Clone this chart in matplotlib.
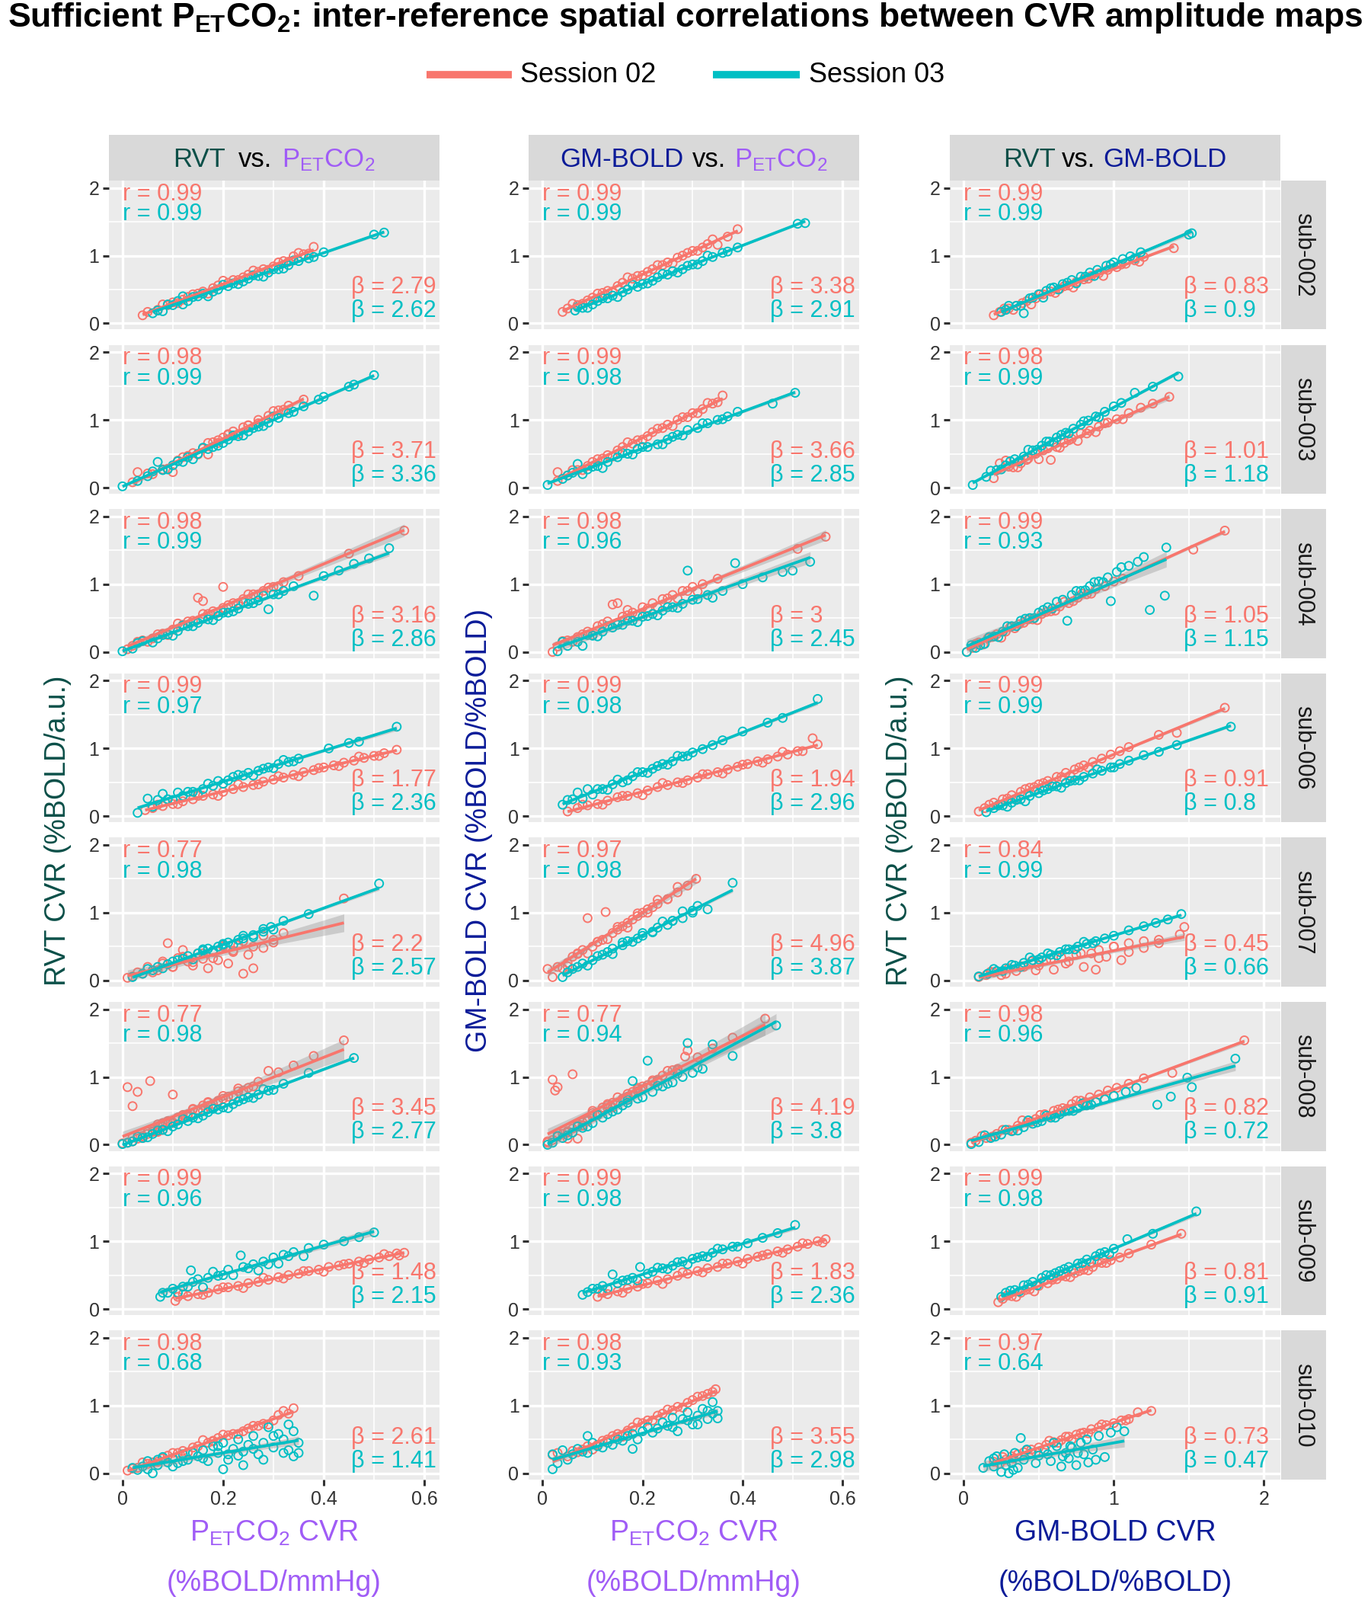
import numpy as np
import matplotlib
matplotlib.use("Agg")
import matplotlib.pyplot as plt
from matplotlib.lines import Line2D

plt.rcParams['font.family'] = ['Liberation Sans', 'DejaVu Sans']
plt.rcParams['mathtext.fontset'] = 'custom'
plt.rcParams['mathtext.rm'] = 'Liberation Sans'
plt.rcParams['mathtext.bf'] = 'Liberation Sans:bold'
plt.rcParams['mathtext.it'] = 'Liberation Sans:italic'
plt.rcParams['mathtext.default'] = 'rm'

subjects = ['sub-002', 'sub-003', 'sub-004', 'sub-006', 'sub-007', 'sub-008', 'sub-009', 'sub-010']

# ---- RVT CVR vs PETCO2 CVR (x = PETCO2, y = RVT) ----
rvt_pet_002_s02 = [(0.04,0.12),(0.05,0.17),(0.07,0.20),(0.09,0.27),(0.10,0.31),(0.12,0.35),(0.13,0.39),(0.15,0.44),(0.16,0.47),(0.18,0.52),(0.19,0.56),(0.21,0.60),(0.22,0.64),(0.24,0.68),(0.25,0.72),(0.27,0.76),(0.28,0.80),(0.30,0.84),(0.32,0.92),(0.34,0.99),(0.36,1.02),(0.38,1.13),
                   (0.08,0.28),(0.11,0.30),(0.14,0.43),(0.17,0.44),(0.20,0.63),(0.23,0.64),(0.26,0.78),(0.29,0.79),(0.31,0.90),(0.33,0.91),(0.35,1.04),(0.37,1.03)]
rvt_pet_002_s03 = [(0.06,0.15),(0.07,0.19),(0.08,0.18),(0.10,0.27),(0.11,0.33),(0.12,0.40),(0.13,0.33),(0.15,0.40),(0.16,0.44),(0.18,0.47),(0.19,0.50),(0.21,0.55),(0.22,0.59),(0.24,0.62),(0.25,0.66),(0.27,0.70),(0.29,0.75),(0.31,0.80),(0.33,0.86),(0.35,0.92),(0.37,0.96),(0.40,1.05),(0.50,1.31),(0.52,1.34),
                   (0.09,0.28),(0.12,0.28),(0.14,0.39),(0.17,0.40),(0.20,0.57),(0.23,0.58),(0.26,0.71),(0.28,0.69),(0.30,0.80),(0.32,0.81),(0.34,0.93),(0.38,0.98)]
rvt_pet_003_s02 = [(0.02,0.08),(0.03,0.23),(0.06,0.20),(0.08,0.27),(0.10,0.23),(0.11,0.40),(0.13,0.47),(0.14,0.51),(0.16,0.58),(0.17,0.49),(0.18,0.67),(0.19,0.70),(0.20,0.74),(0.21,0.78),(0.22,0.83),(0.24,0.89),(0.25,0.92),(0.27,1.00),(0.29,1.06),(0.31,1.14),(0.33,1.21),(0.36,1.30),
                   (0.05,0.21),(0.09,0.28),(0.12,0.45),(0.15,0.49),(0.17,0.66),(0.19,0.66),(0.21,0.79),(0.23,0.79),(0.25,0.92),(0.27,0.95),(0.30,1.13),(0.32,1.15)]
rvt_pet_003_s03 = [(0.00,0.02),(0.03,0.10),(0.05,0.17),(0.07,0.38),(0.08,0.26),(0.10,0.33),(0.12,0.38),(0.13,0.45),(0.15,0.50),(0.17,0.57),(0.18,0.60),(0.20,0.66),(0.21,0.71),(0.23,0.76),(0.25,0.83),(0.27,0.90),(0.29,0.96),(0.31,1.03),(0.33,1.10),(0.36,1.20),(0.39,1.30),(0.40,1.34),(0.45,1.49),(0.46,1.52),(0.50,1.66),
                   (0.06,0.24),(0.09,0.27),(0.11,0.39),(0.14,0.42),(0.16,0.59),(0.19,0.62),(0.22,0.77),(0.24,0.77),(0.26,0.88),(0.28,0.91),(0.30,1.05),(0.34,1.12)]
rvt_pet_004_s02 = [(0.01,0.04),(0.02,0.09),(0.04,0.17),(0.06,0.20),(0.08,0.27),(0.10,0.33),(0.12,0.40),(0.14,0.46),(0.15,0.80),(0.16,0.75),(0.17,0.56),(0.18,0.60),(0.20,0.96),(0.20,0.65),(0.22,0.72),(0.24,0.78),(0.26,0.85),(0.28,0.90),(0.30,0.96),(0.32,1.03),(0.35,1.12),(0.45,1.45),(0.56,1.79),
                   (0.03,0.15),(0.05,0.15),(0.07,0.26),(0.09,0.25),(0.11,0.42),(0.13,0.45),(0.16,0.56),(0.19,0.58),(0.21,0.69),(0.23,0.72),(0.25,0.85),(0.27,0.85),(0.29,0.95),(0.31,0.97)]
rvt_pet_004_s03 = [(0.00,0.01),(0.02,0.05),(0.04,0.16),(0.07,0.20),(0.09,0.26),(0.11,0.31),(0.13,0.38),(0.15,0.43),(0.17,0.48),(0.19,0.53),(0.21,0.58),(0.23,0.64),(0.25,0.71),(0.27,0.76),(0.29,0.63),(0.30,0.85),(0.32,0.90),(0.34,0.97),(0.38,0.83),(0.40,1.12),(0.43,1.20),(0.46,1.30),(0.49,1.38),(0.53,1.53),
                   (0.03,0.13),(0.06,0.14),(0.08,0.25),(0.10,0.24),(0.12,0.39),(0.14,0.38),(0.16,0.49),(0.18,0.47),(0.20,0.58),(0.22,0.60),(0.24,0.73),(0.26,0.72),(0.28,0.83),(0.31,0.85)]
rvt_pet_006_s02 = [(0.045,0.09),(0.06,0.12),(0.08,0.15),(0.10,0.18),(0.12,0.22),(0.14,0.25),(0.16,0.30),(0.18,0.32),(0.20,0.36),(0.22,0.40),(0.24,0.43),(0.26,0.46),(0.28,0.51),(0.30,0.54),(0.32,0.57),(0.34,0.61),(0.36,0.65),(0.38,0.68),(0.40,0.72),(0.42,0.75),(0.44,0.79),(0.46,0.82),(0.48,0.86),(0.50,0.89),(0.52,0.93),(0.545,0.98),
                   (0.07,0.17),(0.11,0.18),(0.15,0.30),(0.19,0.30),(0.23,0.47),(0.27,0.47),(0.31,0.59),(0.35,0.59),(0.39,0.71),(0.43,0.74),(0.47,0.88),(0.51,0.89)]
rvt_pet_006_s03 = [(0.03,0.05),(0.05,0.26),(0.06,0.14),(0.08,0.33),(0.09,0.25),(0.11,0.35),(0.12,0.30),(0.14,0.36),(0.16,0.40),(0.18,0.45),(0.19,0.52),(0.21,0.53),(0.22,0.58),(0.24,0.60),(0.25,0.64),(0.27,0.67),(0.29,0.72),(0.31,0.77),(0.33,0.80),(0.35,0.85),(0.41,1.00),(0.45,1.08),(0.47,1.10),(0.545,1.32),
                   (0.07,0.24),(0.10,0.24),(0.13,0.36),(0.15,0.33),(0.17,0.48),(0.20,0.48),(0.23,0.61),(0.26,0.60),(0.28,0.70),(0.30,0.71),(0.32,0.83),(0.34,0.81)]
rvt_pet_007_s02 = [(0.01,0.04),(0.02,0.06),(0.04,0.10),(0.05,0.20),(0.07,0.15),(0.08,0.28),(0.09,0.55),(0.10,0.20),(0.11,0.33),(0.12,0.45),(0.13,0.28),(0.14,0.22),(0.15,0.40),(0.16,0.32),(0.17,0.18),(0.18,0.42),(0.19,0.30),(0.20,0.50),(0.21,0.25),(0.22,0.42),(0.23,0.52),(0.24,0.10),(0.25,0.38),(0.26,0.18),(0.28,0.48),(0.30,0.60),(0.32,0.70),(0.44,1.21),
                   (0.03,0.12),(0.06,0.12),(0.08,0.25),(0.10,0.20),(0.12,0.35),(0.14,0.27),(0.16,0.40),(0.18,0.33),(0.20,0.52),(0.22,0.44),(0.24,0.58),(0.26,0.50),(0.28,0.66),(0.30,0.56)]
rvt_pet_007_s03 = [(0.02,0.05),(0.04,0.10),(0.06,0.15),(0.07,0.20),(0.09,0.24),(0.10,0.28),(0.12,0.32),(0.13,0.36),(0.15,0.40),(0.16,0.44),(0.17,0.47),(0.19,0.50),(0.20,0.53),(0.21,0.56),(0.23,0.60),(0.24,0.62),(0.26,0.67),(0.28,0.72),(0.295,0.79),(0.32,0.88),(0.37,0.98),(0.51,1.43),
                   (0.05,0.17),(0.08,0.18),(0.11,0.30),(0.14,0.31),(0.16,0.46),(0.18,0.44),(0.20,0.54),(0.22,0.52),(0.24,0.66),(0.26,0.64),(0.28,0.76),(0.30,0.75)]
rvt_pet_008_s02 = [(0.00,0.02),(0.01,0.85),(0.02,0.57),(0.03,0.78),(0.04,0.10),(0.055,0.94),(0.06,0.20),(0.07,0.30),(0.08,0.22),(0.09,0.35),(0.10,0.74),(0.11,0.40),(0.12,0.44),(0.13,0.42),(0.14,0.52),(0.15,0.50),(0.16,0.58),(0.17,0.62),(0.18,0.60),(0.20,0.68),(0.22,0.72),(0.24,0.80),(0.26,0.86),(0.29,1.09),(0.44,1.54),
                   (0.02,0.11),(0.04,0.11),(0.05,0.19),(0.07,0.19),(0.08,0.32),(0.10,0.32),(0.11,0.40),(0.13,0.41),(0.14,0.53),(0.16,0.50),(0.17,0.63),(0.19,0.63),(0.20,0.72),(0.22,0.72),(0.23,0.83),(0.25,0.84),
                   (0.01,0.03),(0.02,0.05),(0.03,0.09),(0.04,0.13),(0.05,0.16),(0.06,0.19),(0.07,0.23),(0.08,0.27),(0.09,0.30),(0.10,0.33),(0.11,0.37),(0.12,0.40),(0.13,0.45),(0.15,0.51),(0.17,0.57),(0.19,0.65),(0.21,0.71),(0.23,0.79),(0.27,0.93),(0.31,1.07),(0.34,1.17),(0.38,1.31)]
rvt_pet_008_s03 = [(0.00,0.01),(0.01,0.03),(0.02,0.05),(0.04,0.10),(0.06,0.16),(0.08,0.22),(0.10,0.27),(0.11,0.30),(0.13,0.35),(0.14,0.40),(0.16,0.43),(0.17,0.48),(0.19,0.52),(0.20,0.55),(0.22,0.60),(0.23,0.64),(0.25,0.70),(0.27,0.74),(0.29,0.80),(0.32,0.90),(0.37,1.06),(0.46,1.28),
                   (0.03,0.12),(0.05,0.11),(0.07,0.21),(0.09,0.20),(0.12,0.38),(0.15,0.39),(0.18,0.53),(0.21,0.54),(0.24,0.67),(0.26,0.69),(0.28,0.82),(0.30,0.81)]
rvt_pet_009_s02 = [(0.105,0.12),(0.11,0.18),(0.13,0.19),(0.15,0.22),(0.17,0.24),(0.19,0.29),(0.21,0.32),(0.23,0.34),(0.25,0.38),(0.27,0.40),(0.29,0.43),(0.31,0.47),(0.33,0.50),(0.35,0.52),(0.37,0.56),(0.39,0.58),(0.41,0.62),(0.43,0.64),(0.45,0.67),(0.47,0.70),(0.49,0.73),(0.51,0.76),(0.53,0.78),(0.545,0.82),(0.56,0.83),
                   (0.12,0.22),(0.16,0.21),(0.20,0.32),(0.24,0.31),(0.28,0.46),(0.32,0.45),(0.36,0.56),(0.40,0.55),(0.44,0.66),(0.48,0.68),(0.52,0.81),(0.55,0.79)]
rvt_pet_009_s03 = [(0.075,0.18),(0.09,0.24),(0.10,0.30),(0.12,0.33),(0.136,0.57),(0.14,0.40),(0.15,0.44),(0.17,0.46),(0.18,0.55),(0.20,0.50),(0.21,0.58),(0.235,0.79),(0.24,0.62),(0.26,0.66),(0.28,0.70),(0.30,0.76),(0.32,0.80),(0.34,0.84),(0.37,0.90),(0.40,0.95),(0.44,1.00),(0.47,1.06),(0.50,1.13),
                   (0.08,0.24),(0.11,0.24),(0.13,0.33),(0.16,0.32),(0.19,0.49),(0.22,0.50),(0.25,0.60),(0.27,0.57),(0.29,0.66),(0.31,0.67),(0.33,0.78),(0.36,0.78)]
rvt_pet_010_s02 = [(0.01,0.04),(0.02,0.07),(0.03,0.08),(0.05,0.14),(0.06,0.16),(0.08,0.22),(0.09,0.26),(0.11,0.30),(0.12,0.33),(0.14,0.38),(0.15,0.40),(0.17,0.45),(0.18,0.48),(0.19,0.52),(0.21,0.56),(0.22,0.58),(0.24,0.62),(0.25,0.66),(0.27,0.70),(0.28,0.73),(0.30,0.78),(0.32,0.92),(0.34,0.96),
                   (0.04,0.16),(0.07,0.17),(0.10,0.30),(0.13,0.31),(0.16,0.49),(0.18,0.47),(0.20,0.57),(0.23,0.58),(0.26,0.70),(0.29,0.72),(0.31,0.86),(0.33,0.88)]
rvt_pet_010_s03 = [(0.02,0.08),(0.03,0.05),(0.04,0.10),(0.05,0.18),(0.06,0.00),(0.07,0.12),(0.08,0.24),(0.09,0.16),(0.10,0.22),(0.11,0.15),(0.12,0.28),(0.13,0.20),(0.14,0.30),(0.15,0.25),(0.16,0.34),(0.17,0.18),(0.18,0.40),(0.19,0.30),(0.20,0.06),(0.20,0.45),(0.21,0.28),(0.22,0.36),(0.23,0.50),(0.24,0.12),(0.24,0.32),(0.25,0.42),(0.26,0.55),(0.27,0.28),(0.28,0.45),(0.29,0.68),(0.30,0.38),(0.31,0.58),(0.32,0.50),(0.33,0.34),(0.33,0.72),(0.34,0.25),(0.35,0.30),
                   (0.05,0.06),(0.07,0.20),(0.10,0.10),(0.12,0.18),(0.16,0.22),(0.19,0.40),(0.21,0.20),(0.23,0.26),(0.26,0.36),(0.28,0.20),(0.30,0.55),(0.32,0.30),(0.34,0.62),(0.35,0.45)]

# ---- GM-BOLD CVR vs PETCO2 CVR (x = PETCO2, y = GM-BOLD) ----
gm_pet_002_s02 = [(0.04,0.17),(0.05,0.22),(0.07,0.27),(0.09,0.34),(0.10,0.38),(0.12,0.45),(0.13,0.48),(0.15,0.55),(0.16,0.60),(0.18,0.66),(0.19,0.70),(0.21,0.76),(0.22,0.80),(0.24,0.86),(0.25,0.90),(0.27,0.97),(0.28,1.00),(0.30,1.07),(0.32,1.12),(0.33,1.17),(0.35,1.16),(0.39,1.39),
                  (0.06,0.29),(0.08,0.29),(0.11,0.44),(0.14,0.47),(0.17,0.68),(0.20,0.71),(0.23,0.86),(0.26,0.89),(0.29,1.04),(0.31,1.07),(0.34,1.24),(0.37,1.28)]
gm_pet_002_s03 = [(0.065,0.19),(0.08,0.23),(0.10,0.28),(0.11,0.33),(0.13,0.37),(0.14,0.41),(0.16,0.46),(0.17,0.50),(0.19,0.54),(0.20,0.58),(0.22,0.63),(0.23,0.68),(0.25,0.72),(0.26,0.77),(0.28,0.80),(0.30,0.87),(0.32,0.92),(0.34,0.98),(0.36,1.04),(0.39,1.12),(0.51,1.47),(0.525,1.48),
                  (0.07,0.24),(0.09,0.23),(0.12,0.37),(0.15,0.39),(0.18,0.57),(0.21,0.59),(0.24,0.73),(0.27,0.75),(0.29,0.85),(0.31,0.87),(0.33,1.00),(0.37,1.06)]
gm_pet_003_s02 = [(0.03,0.10),(0.03,0.23),(0.05,0.18),(0.07,0.26),(0.09,0.32),(0.10,0.38),(0.12,0.43),(0.13,0.48),(0.15,0.55),(0.16,0.60),(0.18,0.65),(0.19,0.70),(0.21,0.76),(0.22,0.82),(0.24,0.88),(0.25,0.93),(0.27,1.00),(0.29,1.04),(0.30,1.10),(0.32,1.16),(0.34,1.24),(0.36,1.36),
                  (0.06,0.26),(0.08,0.26),(0.11,0.42),(0.14,0.46),(0.17,0.67),(0.20,0.71),(0.23,0.87),(0.26,0.91),(0.28,1.04),(0.31,1.10),(0.33,1.25),(0.35,1.26)]
gm_pet_003_s03 = [(0.01,0.04),(0.04,0.13),(0.06,0.22),(0.07,0.35),(0.09,0.27),(0.11,0.32),(0.13,0.38),(0.15,0.45),(0.17,0.50),(0.19,0.57),(0.21,0.60),(0.23,0.64),(0.25,0.71),(0.27,0.78),(0.29,0.85),(0.31,0.88),(0.33,0.95),(0.35,1.00),(0.37,1.05),(0.39,1.12),(0.46,1.24),(0.505,1.40),
                  (0.05,0.18),(0.08,0.20),(0.10,0.31),(0.12,0.29),(0.16,0.51),(0.18,0.49),(0.20,0.60),(0.24,0.64),(0.26,0.75),(0.28,0.77),(0.32,0.95),(0.36,1.01)]
gm_pet_004_s02 = [(0.02,0.00),(0.03,0.08),(0.05,0.17),(0.07,0.22),(0.09,0.30),(0.11,0.38),(0.13,0.45),(0.14,0.70),(0.15,0.72),(0.16,0.52),(0.17,0.62),(0.18,0.58),(0.20,0.66),(0.22,0.72),(0.24,0.78),(0.26,0.84),(0.28,0.90),(0.30,0.96),(0.32,1.00),(0.35,1.08),(0.51,1.52),(0.566,1.70),
                  (0.04,0.16),(0.06,0.15),(0.08,0.26),(0.10,0.25),(0.12,0.41),(0.15,0.43),(0.17,0.54),(0.19,0.53),(0.21,0.64),(0.23,0.66),(0.25,0.79),(0.27,0.79),(0.29,0.90),(0.31,0.89)]
gm_pet_004_s03 = [(0.03,0.01),(0.05,0.09),(0.08,0.09),(0.10,0.24),(0.12,0.30),(0.14,0.36),(0.16,0.40),(0.18,0.46),(0.20,0.52),(0.22,0.56),(0.24,0.61),(0.26,0.66),(0.28,0.71),(0.29,1.20),(0.31,0.78),(0.33,0.84),(0.36,0.90),(0.385,1.31),(0.40,1.00),(0.44,1.10),(0.48,1.18),(0.50,1.20),(0.535,1.33),
                  (0.04,0.15),(0.07,0.15),(0.09,0.25),(0.11,0.23),(0.13,0.38),(0.15,0.40),(0.17,0.46),(0.19,0.44),(0.21,0.53),(0.23,0.54),(0.25,0.66),(0.27,0.65),(0.30,0.77),(0.34,0.80)]
gm_pet_006_s02 = [(0.05,0.07),(0.07,0.12),(0.09,0.16),(0.11,0.18),(0.13,0.23),(0.15,0.28),(0.17,0.30),(0.19,0.34),(0.21,0.38),(0.23,0.43),(0.25,0.46),(0.27,0.50),(0.29,0.53),(0.31,0.57),(0.33,0.62),(0.35,0.65),(0.37,0.69),(0.39,0.73),(0.41,0.77),(0.43,0.81),(0.45,0.84),(0.47,0.88),(0.49,0.91),(0.51,0.96),(0.54,1.15),(0.55,1.06),
                  (0.08,0.17),(0.12,0.17),(0.16,0.30),(0.20,0.31),(0.24,0.49),(0.28,0.49),(0.32,0.62),(0.36,0.63),(0.40,0.76),(0.44,0.79),(0.48,0.95),(0.52,0.96)]
gm_pet_006_s03 = [(0.04,0.17),(0.06,0.25),(0.07,0.35),(0.09,0.40),(0.10,0.32),(0.12,0.40),(0.14,0.47),(0.16,0.50),(0.18,0.59),(0.20,0.65),(0.22,0.70),(0.24,0.77),(0.26,0.81),(0.28,0.88),(0.30,0.94),(0.32,0.99),(0.34,1.05),(0.36,1.12),(0.40,1.25),(0.45,1.38),(0.48,1.45),(0.55,1.73),
                  (0.05,0.24),(0.08,0.26),(0.11,0.40),(0.13,0.39),(0.15,0.54),(0.17,0.53),(0.19,0.65),(0.21,0.64),(0.23,0.74),(0.25,0.76),(0.27,0.89),(0.29,0.89)]
gm_pet_007_s02 = [(0.01,0.17),(0.02,0.05),(0.04,0.18),(0.05,0.26),(0.06,0.35),(0.07,0.40),(0.08,0.45),(0.09,0.92),(0.10,0.50),(0.11,0.57),(0.12,0.60),(0.126,1.01),(0.14,0.70),(0.15,0.75),(0.16,0.80),(0.17,0.85),(0.18,0.90),(0.19,0.95),(0.20,1.00),(0.21,1.05),(0.22,1.08),(0.23,1.13),(0.25,1.20),(0.27,1.30),(0.29,1.40),(0.307,1.50),
                  (0.03,0.20),(0.05,0.21),(0.07,0.39),(0.09,0.40),(0.11,0.57),(0.13,0.61),(0.15,0.79),(0.17,0.78),(0.19,0.99),(0.21,1.00),(0.23,1.19),(0.25,1.20),(0.27,1.38)]
gm_pet_007_s03 = [(0.04,0.05),(0.05,0.12),(0.07,0.20),(0.08,0.25),(0.10,0.30),(0.11,0.36),(0.13,0.42),(0.14,0.47),(0.16,0.52),(0.17,0.58),(0.19,0.62),(0.20,0.66),(0.22,0.72),(0.23,0.78),(0.25,0.82),(0.26,0.88),(0.28,0.92),(0.30,1.00),(0.31,1.10),(0.33,1.05),(0.38,1.44),
                  (0.06,0.17),(0.09,0.22),(0.12,0.38),(0.14,0.39),(0.16,0.56),(0.18,0.57),(0.20,0.70),(0.22,0.71),(0.24,0.87),(0.26,0.88),(0.28,1.02),(0.30,1.03)]
gm_pet_008_s02 = [(0.01,0.05),(0.02,0.96),(0.025,0.80),(0.03,0.85),(0.06,1.04),(0.05,0.09),(0.07,0.09),(0.08,0.28),(0.09,0.35),(0.10,0.50),(0.11,0.45),(0.12,0.55),(0.13,0.60),(0.14,0.62),(0.15,0.70),(0.16,0.66),(0.17,0.75),(0.18,0.78),(0.19,0.82),(0.20,0.86),(0.22,0.95),(0.24,1.02),(0.26,1.10),(0.285,1.30),(0.29,1.39),(0.445,1.86),
                  (0.03,0.17),(0.05,0.18),(0.07,0.31),(0.08,0.29),(0.10,0.47),(0.11,0.44),(0.13,0.58),(0.14,0.55),(0.16,0.68),(0.17,0.69),(0.19,0.84),(0.20,0.82),(0.22,0.93),(0.23,0.94),(0.25,1.09),(0.27,1.10),
                  (0.01,0.03),(0.02,0.07),(0.03,0.12),(0.04,0.16),(0.05,0.20),(0.06,0.24),(0.07,0.28),(0.08,0.33),(0.09,0.37),(0.10,0.41),(0.11,0.46),(0.12,0.49),(0.13,0.54),(0.15,0.62),(0.17,0.71),(0.19,0.79),(0.21,0.88),(0.23,0.96),(0.27,1.12),(0.31,1.29),(0.34,1.42),(0.38,1.58)]
gm_pet_008_s03 = [(0.01,0.00),(0.02,0.03),(0.04,0.10),(0.06,0.18),(0.08,0.25),(0.10,0.32),(0.12,0.40),(0.13,0.45),(0.15,0.52),(0.16,0.58),(0.17,0.62),(0.18,0.94),(0.19,0.68),(0.21,1.24),(0.22,0.78),(0.24,0.86),(0.26,0.92),(0.28,1.00),(0.29,1.50),(0.30,1.06),(0.32,1.12),(0.34,1.48),(0.38,1.31),(0.467,1.76),
                  (0.03,0.13),(0.05,0.14),(0.07,0.27),(0.09,0.27),(0.11,0.44),(0.14,0.49),(0.17,0.66),(0.20,0.70),(0.23,0.87),(0.25,0.90),(0.27,1.05),(0.31,1.14)]
gm_pet_009_s02 = [(0.11,0.18),(0.13,0.22),(0.15,0.26),(0.17,0.30),(0.19,0.33),(0.21,0.38),(0.23,0.42),(0.25,0.44),(0.27,0.49),(0.29,0.52),(0.31,0.56),(0.33,0.60),(0.35,0.62),(0.37,0.67),(0.39,0.70),(0.41,0.74),(0.43,0.77),(0.45,0.81),(0.47,0.85),(0.49,0.88),(0.51,0.92),(0.53,0.96),(0.55,1.00),(0.566,1.03),
                  (0.12,0.24),(0.16,0.24),(0.20,0.37),(0.24,0.37),(0.28,0.54),(0.32,0.54),(0.36,0.67),(0.40,0.67),(0.44,0.79),(0.48,0.83),(0.52,0.97),(0.56,0.98)]
gm_pet_009_s03 = [(0.08,0.21),(0.09,0.25),(0.11,0.30),(0.12,0.34),(0.14,0.51),(0.15,0.38),(0.17,0.43),(0.18,0.46),(0.195,0.62),(0.21,0.52),(0.22,0.55),(0.24,0.60),(0.26,0.64),(0.28,0.70),(0.30,0.74),(0.32,0.78),(0.34,0.83),(0.36,0.88),(0.38,0.92),(0.41,0.97),(0.44,1.05),(0.47,1.12),(0.505,1.24),
                  (0.10,0.30),(0.13,0.30),(0.16,0.42),(0.19,0.42),(0.23,0.61),(0.25,0.59),(0.27,0.69),(0.29,0.66),(0.31,0.76),(0.33,0.77),(0.35,0.89),(0.39,0.92)]
gm_pet_010_s02 = [(0.02,0.27),(0.03,0.30),(0.05,0.25),(0.06,0.33),(0.08,0.35),(0.09,0.40),(0.11,0.42),(0.12,0.48),(0.14,0.55),(0.15,0.58),(0.17,0.63),(0.18,0.68),(0.20,0.74),(0.21,0.78),(0.23,0.85),(0.24,0.88),(0.26,0.93),(0.27,0.98),(0.29,1.04),(0.30,1.08),(0.32,1.14),(0.33,1.17),(0.346,1.24),
                  (0.07,0.31),(0.10,0.35),(0.13,0.50),(0.16,0.54),(0.19,0.75),(0.22,0.78),(0.25,0.94),(0.28,0.97),(0.31,1.13),(0.34,1.20)]
gm_pet_010_s03 = [(0.02,0.06),(0.02,0.28),(0.04,0.34),(0.05,0.20),(0.06,0.28),(0.07,0.36),(0.09,0.55),(0.09,0.30),(0.11,0.40),(0.12,0.38),(0.13,0.45),(0.15,0.50),(0.16,0.48),(0.18,0.36),(0.18,0.58),(0.20,0.62),(0.21,0.68),(0.22,0.60),(0.24,0.75),(0.25,0.70),(0.26,0.82),(0.27,0.62),(0.28,0.80),(0.29,0.90),(0.30,0.72),(0.31,0.85),(0.32,0.95),(0.33,0.80),(0.34,1.05),(0.35,0.81),(0.35,0.92),
                  (0.03,0.15),(0.08,0.32),(0.10,0.45),(0.14,0.42),(0.17,0.55),(0.19,0.50),(0.23,0.66),(0.26,0.68),(0.29,0.78),(0.31,0.72),(0.33,0.92),(0.34,0.88)]

# ---- RVT CVR vs GM-BOLD CVR (x = GM-BOLD, y = RVT) ----
rvt_gm_002_s02 = [(0.20,0.12),(0.24,0.17),(0.30,0.22),(0.35,0.26),(0.42,0.33),(0.48,0.37),(0.53,0.43),(0.58,0.47),(0.64,0.51),(0.70,0.56),(0.75,0.61),(0.80,0.65),(0.85,0.70),(0.90,0.74),(0.96,0.79),(1.02,0.83),(1.08,0.88),(1.14,0.93),(1.20,0.98),(1.40,1.11),
                  (0.27,0.22),(0.33,0.20),(0.39,0.30),(0.45,0.28),(0.51,0.43),(0.61,0.45),(0.67,0.55),(0.73,0.53),(0.83,0.66),(0.93,0.70),(1.05,0.87),(1.17,0.91)]
rvt_gm_002_s03 = [(0.25,0.17),(0.28,0.20),(0.35,0.26),(0.40,0.15),(0.44,0.37),(0.50,0.43),(0.55,0.48),(0.60,0.53),(0.66,0.58),(0.72,0.64),(0.78,0.69),(0.84,0.75),(0.89,0.79),(0.95,0.85),(1.00,0.90),(1.06,0.95),(1.11,0.99),(1.18,1.05),(1.50,1.31),(1.52,1.33),
                  (0.30,0.26),(0.38,0.26),(0.46,0.38),(0.53,0.38),(0.58,0.52),(0.63,0.50),(0.69,0.60),(0.75,0.59),(0.81,0.69),(0.87,0.70),(0.98,0.87),(1.14,0.96)]
rvt_gm_003_s02 = [(0.20,0.14),(0.24,0.36),(0.28,0.40),(0.33,0.30),(0.38,0.36),(0.43,0.43),(0.48,0.50),(0.53,0.55),(0.58,0.41),(0.62,0.60),(0.67,0.66),(0.72,0.72),(0.78,0.80),(0.84,0.84),(0.90,0.90),(0.96,0.96),(1.02,1.01),(1.10,1.10),(1.18,1.18),(1.26,1.24),(1.37,1.34),
                  (0.30,0.31),(0.36,0.30),(0.42,0.41),(0.50,0.42),(0.56,0.58),(0.64,0.59),(0.70,0.70),(0.76,0.69),(0.82,0.80),(0.88,0.82),(0.94,0.95),(1.06,1.01)]
rvt_gm_003_s03 = [(0.06,0.04),(0.15,0.16),(0.22,0.26),(0.28,0.33),(0.34,0.42),(0.40,0.46),(0.46,0.55),(0.52,0.62),(0.57,0.68),(0.62,0.74),(0.68,0.81),(0.73,0.87),(0.78,0.93),(0.83,0.99),(0.88,1.05),(0.94,1.12),(1.00,1.20),(1.05,1.25),(1.14,1.40),(1.26,1.49),(1.43,1.64),
                  (0.18,0.25),(0.25,0.27),(0.31,0.39),(0.37,0.39),(0.43,0.56),(0.49,0.56),(0.55,0.68),(0.60,0.67),(0.65,0.78),(0.70,0.80),(0.80,0.98),(0.90,1.04)]
rvt_gm_004_s02 = [(0.02,0.00),(0.06,0.06),(0.10,0.14),(0.16,0.20),(0.22,0.26),(0.28,0.30),(0.34,0.35),(0.40,0.43),(0.46,0.48),(0.52,0.56),(0.58,0.60),(0.64,0.67),(0.70,0.72),(0.76,0.80),(0.82,0.85),(0.88,0.93),(0.94,0.97),(1.00,1.04),(1.06,1.08),(1.53,1.51),(1.74,1.79),
                  (0.08,0.12),(0.13,0.11),(0.19,0.22),(0.25,0.21),(0.31,0.37),(0.37,0.41),(0.43,0.48),(0.49,0.47),(0.55,0.59),(0.61,0.61),(0.67,0.74),(0.73,0.75),(0.79,0.86),(0.85,0.86)]
rvt_gm_004_s03 = [(0.02,0.00),(0.08,0.06),(0.14,0.12),(0.20,0.23),(0.26,0.30),(0.32,0.38),(0.38,0.46),(0.44,0.50),(0.50,0.58),(0.56,0.66),(0.62,0.74),(0.66,0.77),(0.69,0.46),(0.72,0.84),(0.78,0.90),(0.84,0.97),(0.90,1.04),(0.96,1.10),(0.98,0.75),(1.02,1.18),(1.10,1.27),(1.16,1.33),(1.24,0.62),(1.34,0.83),(1.35,1.54),
                  (0.05,0.10),(0.11,0.10),(0.17,0.22),(0.23,0.22),(0.29,0.38),(0.35,0.38),(0.41,0.49),(0.47,0.50),(0.53,0.62),(0.59,0.64),(0.75,0.90),(0.81,0.91),(0.87,1.03),(0.93,1.03),(1.05,1.25),(1.20,1.40)]
rvt_gm_006_s02 = [(0.10,0.07),(0.14,0.12),(0.20,0.20),(0.26,0.25),(0.32,0.31),(0.38,0.36),(0.44,0.42),(0.50,0.47),(0.56,0.52),(0.62,0.58),(0.68,0.64),(0.74,0.69),(0.80,0.75),(0.86,0.80),(0.92,0.85),(0.98,0.91),(1.04,0.96),(1.10,1.02),(1.30,1.20),(1.42,1.23),(1.74,1.60),
                  (0.17,0.17),(0.23,0.16),(0.29,0.26),(0.35,0.25),(0.41,0.40),(0.47,0.43),(0.53,0.49),(0.59,0.48),(0.65,0.58),(0.71,0.60),(0.77,0.72),(0.83,0.72)]
rvt_gm_006_s03 = [(0.15,0.06),(0.20,0.12),(0.26,0.16),(0.32,0.20),(0.38,0.25),(0.44,0.30),(0.50,0.34),(0.56,0.40),(0.62,0.44),(0.68,0.49),(0.74,0.53),(0.80,0.58),(0.86,0.63),(0.92,0.67),(0.98,0.72),(1.04,0.77),(1.10,0.82),(1.20,0.90),(1.30,0.95),(1.42,1.05),(1.78,1.32),
                  (0.23,0.16),(0.29,0.14),(0.35,0.24),(0.41,0.22),(0.47,0.37),(0.53,0.38),(0.59,0.44),(0.65,0.42),(0.71,0.52),(0.77,0.53),(0.89,0.69),(1.00,0.72)]
rvt_gm_007_s02 = [(0.10,0.05),(0.15,0.08),(0.20,0.12),(0.25,0.08),(0.30,0.18),(0.35,0.14),(0.40,0.20),(0.45,0.28),(0.50,0.22),(0.55,0.30),(0.60,0.16),(0.65,0.34),(0.70,0.28),(0.75,0.38),(0.80,0.20),(0.85,0.40),(0.88,0.16),(0.90,0.45),(0.95,0.35),(1.00,0.50),(1.05,0.30),(1.10,0.55),(1.20,0.48),(1.30,0.60),(1.44,0.68),(1.47,0.79),
                  (0.18,0.13),(0.28,0.10),(0.38,0.21),(0.48,0.15),(0.58,0.31),(0.68,0.25),(0.78,0.40),(0.90,0.33),(1.00,0.50),(1.10,0.42),(1.20,0.58),(1.30,0.55)]
rvt_gm_007_s03 = [(0.10,0.06),(0.16,0.10),(0.22,0.14),(0.28,0.18),(0.34,0.22),(0.40,0.26),(0.46,0.30),(0.52,0.34),(0.58,0.38),(0.64,0.42),(0.70,0.46),(0.76,0.50),(0.82,0.54),(0.88,0.58),(0.94,0.62),(1.00,0.66),(1.10,0.74),(1.20,0.80),(1.28,0.85),(1.36,0.90),(1.45,0.98),
                  (0.20,0.17),(0.26,0.14),(0.32,0.23),(0.38,0.20),(0.44,0.34),(0.50,0.31),(0.56,0.40),(0.62,0.37),(0.68,0.46),(0.74,0.46),(0.80,0.57),(0.86,0.55)]
rvt_gm_008_s02 = [(0.05,0.03),(0.08,0.06),(0.15,0.10),(0.22,0.16),(0.30,0.22),(0.36,0.28),(0.42,0.33),(0.48,0.38),(0.54,0.45),(0.60,0.50),(0.66,0.54),(0.72,0.60),(0.78,0.65),(0.84,0.70),(0.90,0.74),(0.96,0.80),(1.02,0.84),(1.10,0.90),(1.20,0.98),(1.39,1.06),(1.87,1.54),
                  (0.12,0.13),(0.19,0.12),(0.26,0.22),(0.33,0.21),(0.39,0.36),(0.45,0.34),(0.51,0.44),(0.57,0.42),(0.63,0.52),(0.69,0.53),(0.75,0.65),(0.81,0.63)]
rvt_gm_008_s03 = [(0.05,0.01),(0.10,0.04),(0.18,0.10),(0.25,0.15),(0.32,0.20),(0.40,0.26),(0.46,0.31),(0.52,0.35),(0.58,0.40),(0.64,0.45),(0.70,0.50),(0.76,0.54),(0.82,0.58),(0.88,0.63),(0.94,0.67),(1.00,0.72),(1.08,0.78),(1.15,0.84),(1.29,0.59),(1.38,0.71),(1.49,0.99),(1.52,0.85),(1.81,1.27),
                  (0.14,0.14),(0.21,0.12),(0.28,0.22),(0.36,0.21),(0.43,0.36),(0.49,0.33),(0.55,0.43),(0.61,0.40),(0.67,0.49),(0.73,0.50),(0.79,0.61),(0.85,0.59)]
rvt_gm_009_s02 = [(0.23,0.10),(0.26,0.15),(0.32,0.19),(0.38,0.24),(0.44,0.29),(0.50,0.34),(0.56,0.38),(0.62,0.44),(0.68,0.48),(0.74,0.53),(0.80,0.58),(0.86,0.62),(0.92,0.68),(0.98,0.72),(1.04,0.76),(1.10,0.82),(1.25,0.95),(1.45,1.11),
                  (0.29,0.20),(0.35,0.18),(0.41,0.28),(0.47,0.26),(0.53,0.41),(0.59,0.43),(0.65,0.49),(0.71,0.47),(0.77,0.56),(0.83,0.57),(0.89,0.69),(0.95,0.68)]
rvt_gm_009_s03 = [(0.25,0.18),(0.28,0.24),(0.34,0.28),(0.40,0.35),(0.46,0.40),(0.52,0.46),(0.58,0.50),(0.64,0.56),(0.70,0.62),(0.76,0.67),(0.82,0.73),(0.88,0.78),(0.94,0.84),(1.00,0.89),(1.09,1.03),(1.26,1.11),(1.55,1.44),
                  (0.31,0.27),(0.37,0.26),(0.43,0.36),(0.49,0.35),(0.55,0.50),(0.61,0.53),(0.67,0.59),(0.73,0.57),(0.79,0.68),(0.85,0.69),(0.91,0.82),(0.97,0.81)]
rvt_gm_010_s02 = [(0.20,0.17),(0.24,0.14),(0.28,0.20),(0.32,0.25),(0.36,0.28),(0.40,0.31),(0.45,0.35),(0.50,0.38),(0.55,0.42),(0.60,0.46),(0.65,0.49),(0.70,0.54),(0.75,0.57),(0.80,0.60),(0.85,0.65),(0.90,0.68),(0.95,0.71),(1.00,0.74),(1.05,0.78),(1.10,0.80),(1.16,0.90),(1.25,0.92),
                  (0.26,0.24),(0.33,0.22),(0.42,0.34),(0.48,0.31),(0.57,0.48),(0.63,0.45),(0.68,0.54),(0.72,0.50),(0.78,0.59),(0.83,0.59),(0.92,0.72),(1.08,0.78)]
rvt_gm_010_s03 = [(0.13,0.08),(0.17,0.18),(0.20,0.10),(0.22,0.25),(0.25,0.02),(0.27,0.28),(0.30,0.00),(0.32,0.15),(0.34,0.30),(0.36,0.08),(0.38,0.52),(0.40,0.20),(0.45,0.30),(0.50,0.26),(0.54,0.35),(0.58,0.18),(0.62,0.40),(0.65,0.10),(0.68,0.30),(0.70,0.22),(0.72,0.38),(0.75,0.12),(0.78,0.45),(0.80,0.28),(0.83,0.16),(0.86,0.35),(0.90,0.55),(0.94,0.24),(0.98,0.60),(1.02,0.68),(1.07,0.62),
                  (0.20,0.22),(0.28,0.12),(0.33,0.05),(0.42,0.35),(0.48,0.15),(0.56,0.28),(0.60,0.45),(0.66,0.25),(0.71,0.40),(0.76,0.30),(0.82,0.50),(0.88,0.20)]

# ---- annotation values, one entry per subject ----
rvt_pet_r02 = ['0.99', '0.98', '0.98', '0.99', '0.77', '0.77', '0.99', '0.98']
rvt_pet_r03 = ['0.99', '0.99', '0.99', '0.97', '0.98', '0.98', '0.96', '0.68']
rvt_pet_b02 = ['2.79', '3.71', '3.16', '1.77', '2.2', '3.45', '1.48', '2.61']
rvt_pet_b03 = ['2.62', '3.36', '2.86', '2.36', '2.57', '2.77', '2.15', '1.41']
gm_pet_r02 = ['0.99', '0.99', '0.98', '0.99', '0.97', '0.77', '0.99', '0.98']
gm_pet_r03 = ['0.99', '0.98', '0.96', '0.98', '0.98', '0.94', '0.98', '0.93']
gm_pet_b02 = ['3.38', '3.66', '3', '1.94', '4.96', '4.19', '1.83', '3.55']
gm_pet_b03 = ['2.91', '2.85', '2.45', '2.96', '3.87', '3.8', '2.36', '2.98']
rvt_gm_r02 = ['0.99', '0.98', '0.99', '0.99', '0.84', '0.98', '0.99', '0.97']
rvt_gm_r03 = ['0.99', '0.99', '0.93', '0.99', '0.99', '0.96', '0.98', '0.64']
rvt_gm_b02 = ['0.83', '1.01', '1.05', '0.91', '0.45', '0.82', '0.81', '0.73']
rvt_gm_b03 = ['0.9', '1.18', '1.15', '0.8', '0.66', '0.72', '0.91', '0.47']

# ---- tables built from the lists above ----
series = [
    [(rvt_pet_002_s02, rvt_pet_002_s03), (rvt_pet_003_s02, rvt_pet_003_s03), (rvt_pet_004_s02, rvt_pet_004_s03),
     (rvt_pet_006_s02, rvt_pet_006_s03), (rvt_pet_007_s02, rvt_pet_007_s03), (rvt_pet_008_s02, rvt_pet_008_s03),
     (rvt_pet_009_s02, rvt_pet_009_s03), (rvt_pet_010_s02, rvt_pet_010_s03)],
    [(gm_pet_002_s02, gm_pet_002_s03), (gm_pet_003_s02, gm_pet_003_s03), (gm_pet_004_s02, gm_pet_004_s03),
     (gm_pet_006_s02, gm_pet_006_s03), (gm_pet_007_s02, gm_pet_007_s03), (gm_pet_008_s02, gm_pet_008_s03),
     (gm_pet_009_s02, gm_pet_009_s03), (gm_pet_010_s02, gm_pet_010_s03)],
    [(rvt_gm_002_s02, rvt_gm_002_s03), (rvt_gm_003_s02, rvt_gm_003_s03), (rvt_gm_004_s02, rvt_gm_004_s03),
     (rvt_gm_006_s02, rvt_gm_006_s03), (rvt_gm_007_s02, rvt_gm_007_s03), (rvt_gm_008_s02, rvt_gm_008_s03),
     (rvt_gm_009_s02, rvt_gm_009_s03), (rvt_gm_010_s02, rvt_gm_010_s03)],
]
stats = [
    (rvt_pet_r02, rvt_pet_r03, rvt_pet_b02, rvt_pet_b03),
    (gm_pet_r02, gm_pet_r03, gm_pet_b02, gm_pet_b03),
    (rvt_gm_r02, rvt_gm_r03, rvt_gm_b02, rvt_gm_b03),
]

S02 = '#F8766D'
S03 = '#00BFC4'
C_RVT = '#0b4f48'
C_PET = '#a05cf6'
C_GM = '#0b1b98'
PANEL = '#EBEBEB'
STRIP = '#D9D9D9'
TXT = '#333333'

W, H = 1800, 2100
fig = plt.figure(figsize=(18, 21), dpi=100)

col_left = [143, 694, 1247]
col_w = 434
row_top0 = 237
row_step = 215.6
row_h = 195.5
xlims = [(-0.027, 0.63), (-0.028, 0.633), (-0.093, 2.11)]
x_major = [[0, 0.2, 0.4, 0.6], [0, 0.2, 0.4, 0.6], [0, 1, 2]]
x_minor = [[0.1, 0.3, 0.5], [0.1, 0.3, 0.5], [0.5, 1.5]]
x_labels = [['0', '0.2', '0.4', '0.6'], ['0', '0.2', '0.4', '0.6'], ['0', '1', '2']]
beta_x = [0.455, 0.455, 1.465]


def px_axes(left, top, width, height):
    return fig.add_axes([left / W, 1 - (top + height) / H, width / W, height / H])


def add_fit(ax, pts, color):
    x = np.array([p[0] for p in pts])
    y = np.array([p[1] for p in pts])
    n = len(x)
    b, a = np.polyfit(x, y, 1)
    xs = np.linspace(x.min(), x.max(), 80)
    yh = a + b * xs
    s = np.sqrt(np.sum((y - (a + b * x)) ** 2) / (n - 2))
    se = s * np.sqrt(1.0 / n + (xs - x.mean()) ** 2 / np.sum((x - x.mean()) ** 2))
    ax.fill_between(xs, yh - 2.03 * se, yh + 2.03 * se, color='#999999', alpha=0.4, lw=0, zorder=3)
    ax.plot(xs, yh, color=color, lw=2.7, solid_capstyle='butt', zorder=4)


for c in range(3):
    r02, r03, b02, b03 = stats[c]
    for r in range(8):
        top = row_top0 + r * row_step
        ax = px_axes(col_left[c], top, col_w, row_h)
        ax.set_facecolor(PANEL)
        for sp in ax.spines.values():
            sp.set_visible(False)
        ax.set_xlim(*xlims[c])
        ax.set_ylim(-0.09, 2.107)
        ax.set_xticks(x_major[c])
        ax.set_xticks(x_minor[c], minor=True)
        ax.set_yticks([0, 1, 2])
        ax.set_yticks([0.5, 1.5], minor=True)
        ax.set_yticklabels(['0', '1', '2'])
        ax.grid(which='major', color='white', lw=2.4)
        ax.grid(which='minor', color='white', lw=1.2)
        ax.set_axisbelow(True)
        ax.tick_params(which='minor', length=0)
        ax.tick_params(axis='y', which='major', length=6, width=2.2, color=TXT,
                       labelsize=18, labelcolor=TXT, pad=3)
        if r == 7:
            ax.set_xticklabels(x_labels[c])
            ax.tick_params(axis='x', which='major', length=6, width=2.2, color=TXT,
                           labelsize=18, labelcolor=TXT, pad=4)
        else:
            ax.tick_params(axis='x', which='major', length=0, labelbottom=False)

        p02, p03 = series[c][r]
        for pts, col in ((p02, S02), (p03, S03)):
            ax.scatter([p[0] for p in pts], [p[1] for p in pts], s=62, facecolors='none',
                       edgecolors=col, linewidths=1.4, zorder=2)
        add_fit(ax, p02, S02)
        add_fit(ax, p03, S03)

        ax.text(0, 1.91, 'r = ' + r02[r], color=S02, fontsize=22, ha='left', va='center', zorder=6)
        ax.text(0, 1.61, 'r = ' + r03[r], color=S03, fontsize=22, ha='left', va='center', zorder=6)
        ax.text(beta_x[c], 0.53, '\u03b2 = ' + b02[r], color=S02, fontsize=22, ha='left', va='center', zorder=6)
        ax.text(beta_x[c], 0.18, '\u03b2 = ' + b03[r], color=S03, fontsize=22, ha='left', va='center', zorder=6)

# right-hand strips with subject names
for r in range(8):
    top = row_top0 + r * row_step
    sax = px_axes(1682, top, 59, row_h)
    sax.set_facecolor(STRIP)
    sax.set_xticks([])
    sax.set_yticks([])
    for sp in sax.spines.values():
        sp.set_visible(False)
    sax.text(0.5, 0.5, subjects[r], rotation=-90, fontsize=22, color='#1a1a1a',
             ha='center', va='center', transform=sax.transAxes)

# top strips
PET_TXT = r'P$_{ET}$CO$_2$'
strip_pieces = [
    [('RVT', C_RVT, 17), ('vs.', 'black', 13), (PET_TXT, C_PET, 0)],
    [('GM-BOLD', C_GM, 11), ('vs.', 'black', 11), (PET_TXT, C_PET, 0)],
    [('RVT', C_RVT, 8), ('vs.', 'black', 10), ('GM-BOLD', C_GM, 0)],
]
strip_texts = []
for c in range(3):
    tax = px_axes(col_left[c], 177, col_w, 60)
    tax.set_facecolor(STRIP)
    tax.set_xticks([])
    tax.set_yticks([])
    for sp in tax.spines.values():
        sp.set_visible(False)
    items = []
    for s, colr, gap in strip_pieces[c]:
        t = fig.text(0, 1 - 219.5 / H, s, color=colr, fontsize=25, ha='left', va='baseline')
        items.append((t, gap))
    strip_texts.append((col_left[c] + col_w / 2, items))

fig.canvas.draw()
rend = fig.canvas.get_renderer()
for xc, items in strip_texts:
    widths = [t.get_window_extent(rend).width for t, g in items]
    total = sum(widths) + sum(g for t, g in items)
    x = xc - total / 2
    for (t, g), w in zip(items, widths):
        t.set_x(x / W)
        x += w + g

# axis titles
fig.text(76 / W, 1 - 1090 / H, 'RVT CVR (%BOLD/a.u.)', rotation=90, fontsize=27,
         color=C_RVT, ha='center', va='center')
fig.text(629 / W, 1 - 1090 / H, 'GM-BOLD CVR (%BOLD/%BOLD)', rotation=90, fontsize=27,
         color=C_GM, ha='center', va='center')
fig.text(1181 / W, 1 - 1090 / H, 'RVT CVR (%BOLD/a.u.)', rotation=90, fontsize=27,
         color=C_RVT, ha='center', va='center')

x_titles = [(PET_TXT + ' CVR', '(%BOLD/mmHg)', C_PET),
            (PET_TXT + ' CVR', '(%BOLD/mmHg)', C_PET),
            ('GM-BOLD CVR', '(%BOLD/%BOLD)', C_GM)]
for c in range(3):
    xc = (col_left[c] + col_w / 2) / W
    l1, l2, colr = x_titles[c]
    fig.text(xc, 1 - 2012 / H, l1, fontsize=27, color=colr, ha='center', va='center')
    fig.text(xc, 1 - 2078 / H, l2, fontsize=27, color=colr, ha='center', va='center')

# title
fig.text(0.5, 1 - 35 / H,
         r'Sufficient P$_{\mathbf{ET}}$CO$_{\mathbf{2}}$: inter-reference spatial correlations between CVR amplitude maps',
         fontsize=32, fontweight='bold', ha='center', va='baseline', color='black')

# legend
for x0, x1, tx, col, lab in ((560, 672, 683, S02, 'Session 02'), (936, 1050, 1062, S03, 'Session 03')):
    fig.add_artist(Line2D([x0 / W, x1 / W], [1 - 98 / H, 1 - 98 / H], transform=fig.transFigure,
                          color=col, lw=7, solid_capstyle='butt'))
    fig.text(tx / W, 1 - 98 / H, lab, fontsize=26, color='black', ha='left', va='center')

fig.savefig('out.png', dpi=100, facecolor='white')
